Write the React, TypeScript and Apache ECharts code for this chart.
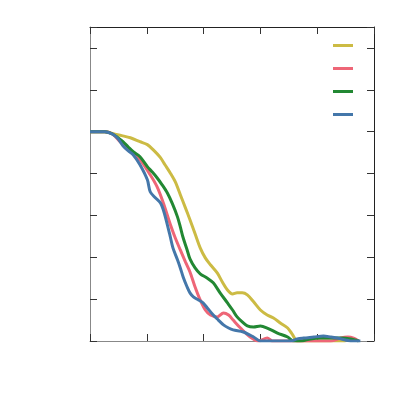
import React, { useEffect, useRef } from "react";
import * as echarts from "echarts";

const seriesNames = ["A", "B", "C", "D"];
const colors = ["#CCBB44", "#EE6677", "#228833", "#4477AA"];

const yellowX = [0, 0.26, 0.41, 0.56, 0.71, 0.88, 1.01, 1.11, 1.24, 1.32, 1.41, 1.5, 1.59, 1.68, 1.76, 1.85, 1.94, 2.03, 2.12, 2.24, 2.33, 2.42, 2.51, 2.59, 2.68, 2.77, 2.88, 3.0, 3.12, 3.23, 3.35, 3.48, 3.56, 3.65, 3.8, 4.0, 4.2, 4.5];
const yellowY = [1.0, 1.0, 0.99, 0.981, 0.971, 0.952, 0.938, 0.914, 0.876, 0.842, 0.804, 0.761, 0.699, 0.636, 0.579, 0.512, 0.445, 0.397, 0.364, 0.325, 0.282, 0.244, 0.225, 0.23, 0.23, 0.22, 0.187, 0.148, 0.124, 0.11, 0.086, 0.062, 0.033, 0, 0, 0, 0, 0];

const redX = [0, 0.26, 0.39, 0.53, 0.71, 0.88, 1.06, 1.18, 1.29, 1.41, 1.5, 1.59, 1.68, 1.76, 1.85, 1.94, 2.03, 2.12, 2.24, 2.35, 2.44, 2.52, 2.65, 2.82, 2.96, 3.12, 3.21, 3.44, 3.88, 4.24, 4.41, 4.54, 4.64, 4.73];
const redY = [1.0, 1.0, 0.99, 0.952, 0.904, 0.866, 0.794, 0.737, 0.66, 0.56, 0.493, 0.435, 0.378, 0.33, 0.258, 0.196, 0.148, 0.124, 0.115, 0.134, 0.124, 0.1, 0.062, 0.019, 0, 0.014, 0, 0, 0, 0, 0.014, 0.019, 0.014, 0];

const greenX = [0, 0.26, 0.39, 0.49, 0.58, 0.67, 0.76, 0.88, 1.01, 1.09, 1.18, 1.27, 1.36, 1.45, 1.54, 1.59, 1.64, 1.71, 1.76, 1.85, 1.94, 2.06, 2.17, 2.29, 2.42, 2.51, 2.59, 2.68, 2.77, 2.88, 3.0, 3.12, 3.3, 3.48, 3.58, 3.71, 3.88, 4.06, 4.24, 4.41, 4.59, 4.73];
const greenY = [1.0, 1.0, 0.99, 0.971, 0.952, 0.928, 0.904, 0.88, 0.833, 0.809, 0.78, 0.746, 0.708, 0.656, 0.593, 0.545, 0.493, 0.435, 0.392, 0.349, 0.321, 0.301, 0.278, 0.23, 0.182, 0.148, 0.115, 0.091, 0.072, 0.067, 0.072, 0.062, 0.038, 0.019, 0, 0, 0.01, 0.014, 0.014, 0.014, 0.01, 0];

const blueX = [0, 0.26, 0.41, 0.49, 0.58, 0.67, 0.76, 0.88, 1.01, 1.06, 1.15, 1.24, 1.29, 1.34, 1.41, 1.46, 1.54, 1.59, 1.64, 1.71, 1.76, 1.82, 1.91, 1.99, 2.08, 2.17, 2.26, 2.35, 2.44, 2.52, 2.7, 2.88, 3.0, 3.26, 3.53, 3.65, 3.76, 3.94, 4.11, 4.24, 4.36, 4.5, 4.59, 4.76];
const blueY = [1.0, 1.0, 0.986, 0.967, 0.933, 0.909, 0.89, 0.842, 0.77, 0.713, 0.684, 0.66, 0.627, 0.579, 0.502, 0.445, 0.388, 0.349, 0.306, 0.258, 0.23, 0.211, 0.196, 0.182, 0.153, 0.124, 0.1, 0.077, 0.062, 0.053, 0.043, 0.019, 0, 0, 0, 0.01, 0.014, 0.019, 0.024, 0.019, 0.014, 0.005, 0, 0];

const allX = [yellowX, redX, greenX, blueX];
const allY = [yellowY, redY, greenY, blueY];

export default function App() {
  const ref = useRef<HTMLDivElement>(null);
  useEffect(() => {
    if (!ref.current) return;
    const chart = echarts.init(ref.current, undefined, { renderer: "svg" });
    const dark = "#222";
    const light = "#888";
    const mkX = (pos: string, col: string) => ({
      type: "value",
      position: pos,
      min: 0,
      max: 5,
      interval: 1,
      axisLine: { show: true, onZero: false, lineStyle: { color: col, width: 1 } },
      axisTick: { show: true, inside: true, length: 7, lineStyle: { color: "#333" } },
      axisLabel: { show: false },
      splitLine: { show: false },
    });
    const mkY = (pos: string, col: string) => ({
      type: "value",
      position: pos,
      min: 0,
      max: 1.5,
      interval: 0.2,
      axisLine: { show: true, onZero: false, lineStyle: { color: col, width: 1 } },
      axisTick: { show: true, inside: true, length: 7, lineStyle: { color: "#333" } },
      axisLabel: { show: false },
      splitLine: { show: false },
    });
    chart.setOption({
      animation: false,
      backgroundColor: "#fff",
      grid: { left: 90, top: 27, width: 284, height: 314 },
      xAxis: [mkX("bottom", light), mkX("top", dark)],
      yAxis: [mkY("left", light), mkY("right", dark)],
      legend: {
        orient: "vertical",
        left: 328,
        top: 39,
        itemWidth: 20,
        itemHeight: 3,
        itemGap: 20,
        icon: "rect",
        formatter: () => "",
        textStyle: { fontSize: 10, lineHeight: 10 },
        data: seriesNames,
      },
      series: seriesNames.map((name, i) => ({
        name,
        type: "line",
        xAxisIndex: 0,
        yAxisIndex: 0,
        showSymbol: false,
        symbol: "none",
        smooth: 0.3,
        color: colors[i],
        lineStyle: { width: 3, color: colors[i] },
        data: allX[i].map((x, j) => [x, allY[i][j]]),
      })),
    });
    return () => chart.dispose();
  }, []);
  return <div ref={ref} style={{ width: 415, height: 415, position: "absolute", left: 0, top: 0 }} />;
}
